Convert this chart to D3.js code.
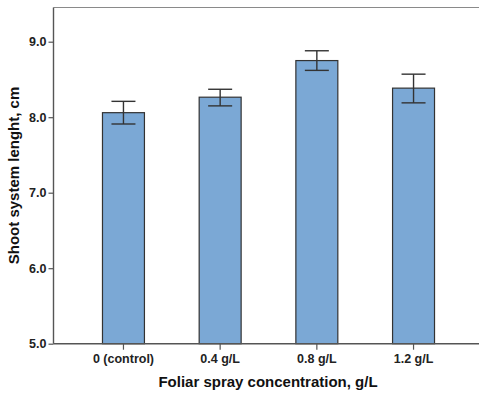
<!DOCTYPE html>
<html>
<head>
<meta charset="utf-8">
<script src="https://cdn.jsdelivr.net/npm/d3@7"></script>
<style>
html,body{margin:0;padding:0;background:#fff;}
svg{display:block;}
</style>
</head>
<body>
<svg id="chart" width="479" height="393"></svg>
<script>
const categories = ["0 (control)", "0.4 g/L", "0.8 g/L", "1.2 g/L"];
const means = [8.06, 8.265, 8.75, 8.385];
const upper = [8.21, 8.37, 8.88, 8.57];
const lower = [7.91, 8.15, 8.62, 8.19];
const yTicks = [5.0, 6.0, 7.0, 8.0, 9.0];
const xTitle = "Foliar spray concentration, g/L";
const yTitle = "Shoot system lenght, cm";

(function () {
const svg = d3.select("#chart");
const pLeft = 53.5, pRight = 483.5, pTop = 7.5, pBottom = 343.7;

const y = d3.scaleLinear().domain([5, 5 + (pBottom - pTop) / 75.5]).range([pBottom, pTop]);
const x = d3.scaleBand().domain(categories).range([pLeft, pRight]).paddingInner(0.566).paddingOuter(0.5065);

const font = "'Liberation Sans', Arial, sans-serif";

// frame top
svg.append("line").attr("x1", pLeft).attr("x2", 479).attr("y1", pTop).attr("y2", pTop)
  .attr("stroke", "#8a8a8a").attr("stroke-width", 1.2);

// bars
svg.selectAll("rect.bar").data(categories).enter().append("rect")
  .attr("class", "bar")
  .attr("x", d => x(d))
  .attr("width", x.bandwidth())
  .attr("y", (d, i) => y(means[i]))
  .attr("height", (d, i) => y(5) - y(means[i]))
  .attr("fill", "#7ba8d5")
  .attr("stroke", "#333")
  .attr("stroke-width", 1.2);

// error bars
const cx = d => x(d) + x.bandwidth() / 2;
const eb = svg.append("g").attr("stroke", "#333").attr("stroke-width", 1.4);
categories.forEach((c, i) => {
  eb.append("line").attr("x1", cx(c)).attr("x2", cx(c)).attr("y1", y(upper[i])).attr("y2", y(lower[i]));
  eb.append("line").attr("x1", cx(c) - 12).attr("x2", cx(c) + 12).attr("y1", y(upper[i])).attr("y2", y(upper[i]));
  eb.append("line").attr("x1", cx(c) - 12).attr("x2", cx(c) + 12).attr("y1", y(lower[i])).attr("y2", y(lower[i]));
});

// y axis
const yAxis = svg.append("g").attr("transform", `translate(${pLeft},0)`)
  .call(d3.axisLeft(y).tickValues(yTicks).tickFormat(d3.format(".1f")).tickSize(5).tickPadding(2));
yAxis.select(".domain").attr("d", `M0,${pTop}V${pBottom}`).attr("stroke", "#555").attr("stroke-width", 1.4);
yAxis.selectAll(".tick line").attr("stroke", "#555").attr("stroke-width", 1.2);
yAxis.selectAll(".tick text").attr("font-family", font).attr("font-size", 12.5)
  .attr("font-weight", "bold").attr("fill", "#222");

// x axis
const xAxis = svg.append("g").attr("transform", `translate(0,${pBottom})`)
  .call(d3.axisBottom(x).tickSize(6).tickPadding(4));
xAxis.select(".domain").attr("d", `M${pLeft},0H479`).attr("stroke", "#555").attr("stroke-width", 1.4);
xAxis.selectAll(".tick line").attr("stroke", "#555").attr("stroke-width", 1.2);
xAxis.selectAll(".tick text").attr("font-family", font).attr("font-size", 12.5)
  .attr("font-weight", "bold").attr("fill", "#222");

// titles
svg.append("text").attr("x", 268).attr("y", 387).attr("text-anchor", "middle")
  .attr("font-family", font).attr("font-size", 15).attr("font-weight", "bold").attr("fill", "#111")
  .text(xTitle);
svg.append("text").attr("transform", "translate(18.5,175.5) rotate(-90)").attr("text-anchor", "middle")
  .attr("font-family", font).attr("font-size", 15).attr("font-weight", "bold").attr("fill", "#111")
  .text(yTitle);
})();
</script>
</body>
</html>
